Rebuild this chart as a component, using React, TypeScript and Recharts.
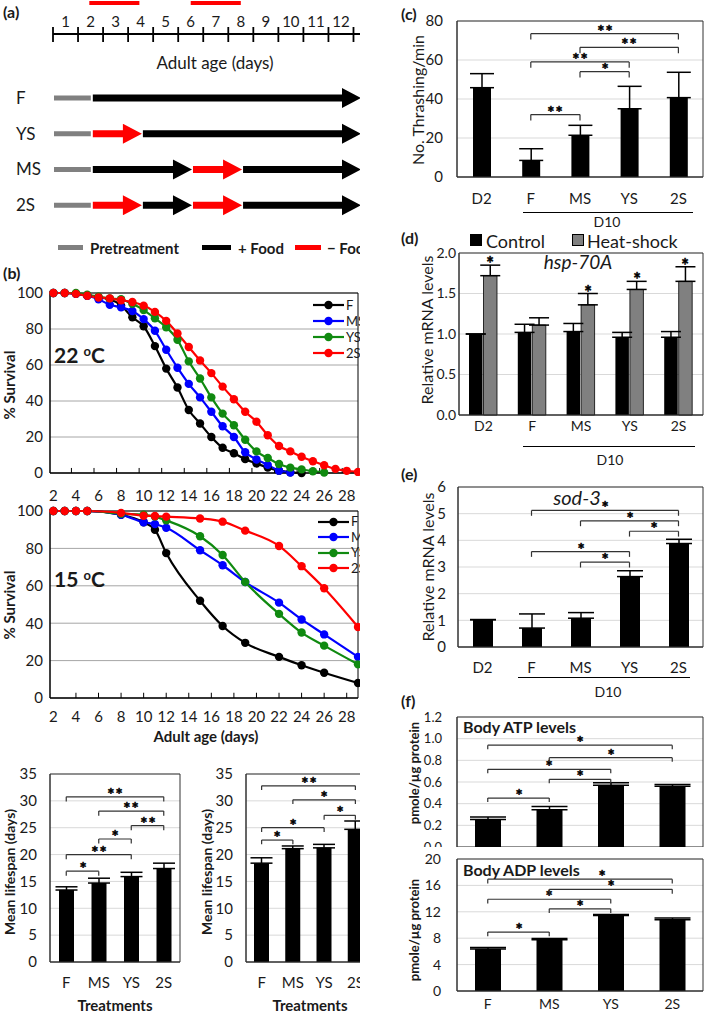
import React from "react";
import {
  BarChart,
  Bar,
  XAxis,
  YAxis,
  CartesianGrid,
  ErrorBar,
  ReferenceLine,
  ReferenceArea,
  LineChart,
  Line,
  Legend,
  LabelList,
} from "recharts";

const FONT = "Lato, 'Open Sans', sans-serif";
const INK = "#1a1a1a";
const BOX = "#333";
const LIGHT_GRID = "#d9d9d9";

// ---------- (a) feeding schedule ----------
const SCHEDULE_ROWS = ["F", "YS", "MS", "2S"];
const SCHEDULE_SEGMENTS = [
  [1.55, 10.75],
  [1.55, 2, 8.75],
  [1.55, 4, 2, 4.75],
  [1.55, 2, 2, 2, 4.75],
];
const SCHEDULE_KINDS = [
  ["pre", "fed"],
  ["pre", "starved", "fed"],
  ["pre", "fed", "starved", "fed"],
  ["pre", "starved", "fed", "starved", "fed"],
];
const STARVE_WINDOWS = [
  [1.45, 3.45],
  [5.5, 7.5],
];
const DAY_TICKS = [0, 1, 2, 3, 4, 5, 6, 7, 8, 9, 10, 11, 12];
const TIMELINE_END = 12.3;
const KIND_COLOR: Record<string, string> = { pre: "#808080", fed: "#000", starved: "#ff0000" };

// ---------- (b) survival ----------
const SURV_TICKS = [2, 4, 6, 8, 10, 12, 14, 16, 18, 20, 22, 24, 26, 28];
const SURV_Y = [0, 20, 40, 60, 80, 100];
const MARKS_22 = [3.6, 5.6, 7.6, 9.6, 11.6, 13.6, 15.6, 17.6, 19.6, 21.6, 23.6, 25.6, 27.6];
const MARKS_15 = [4, 6, 8, 10, 12, 14, 16, 18, 20, 22, 24, 26, 28];

const DAYS_22 = [2, 3, 4, 5, 6, 7, 8, 9, 10, 11, 12, 13, 14, 15, 16, 17, 18, 19, 20, 21, 22, 23, 24, 25, 26, 27, 28, 29];
const F_22 = [100, 100, 99.5, 98.5, 97.5, 96.5, 93, 86.5, 81.5, 70.5, 58, 47.5, 35, 27.5, 20, 14, 11, 7.7, 5.3, 3, 1.3, 0.4, 0, null, null, null, null, null];
const MS_22 = [100, 100, 99.5, 98.5, 96.5, 93.5, 92, 90, 85.5, 79, 68.5, 58.5, 49.5, 42, 34, 26, 20, 11.5, 7.5, 4.5, 1.3, 0.2, null, null, null, null, null, null];
const YS_22 = [100, 100, 100, 99, 98, 97, 96.5, 94, 90.5, 86, 81, 74, 62, 52.5, 42, 33, 26.5, 18.5, 12, 8.3, 5, 3, 2, 1, 0.3, null, null, null];
const S2_22 = [100, 100, 99.5, 98.5, 97.5, 97, 96, 95, 93, 89.5, 84.5, 77.5, 70, 62.5, 55.5, 48, 41, 34, 28.5, 21, 15, 12, 9, 6.5, 4.3, 2.3, 1.2, 0.6];

const DAYS_15 = [2, 3, 4, 5, 8, 10, 11, 12, 15, 17, 19, 22, 24, 26, 29];
const F_15 = [100, 100, 100, 100, 98, 94, 90, 77.5, 52, 38.5, 29.5, 22, 17.5, 13.5, 8];
const MS_15 = [100, 100, 100, 100, 98, 94, 93, 91, 79, 71, 62, 51, 42, 34, 22];
const YS_15 = [100, 100, 100, 100, 98.5, 98, 97, 95, 86.5, 76.5, 62, 45, 35, 28, 18];
const S2_15 = [100, 100, 100, 100, 99, 97.5, 97.3, 97, 96, 94.3, 89.5, 81.3, 70.5, 58.7, 38];

const SERIES_COLORS = { F: "#000000", MS: "#0000ff", YS: "#108a10", "2S": "#ff0000" };

// ---------- mean lifespan ----------
const TREATMENTS = ["F", "MS", "YS", "2S"];
const LIFE_Y = [0, 5, 10, 15, 20, 25, 30, 35];
const LIFE_A = [13.4, 14.7, 15.9, 17.4];
const LIFE_A_ERR = [0.6, 0.9, 0.8, 1.0];
const LIFE_B = [18.4, 21.1, 21.25, 24.7];
const LIFE_B_ERR = [1.0, 0.5, 0.65, 1.55];

type Bracket = [string, string, number, string];
const LIFE_A_SIG: Bracket[] = [
  ["F", "MS", 16.9, "*"],
  ["F", "YS", 20, "**"],
  ["MS", "YS", 22.9, "*"],
  ["YS", "2S", 25.4, "**"],
  ["MS", "2S", 28.1, "**"],
  ["F", "2S", 30.75, "**"],
];
const LIFE_B_SIG: Bracket[] = [
  ["F", "MS", 22.7, "*"],
  ["F", "YS", 25, "*"],
  ["YS", "2S", 27.3, "*"],
  ["MS", "2S", 30.2, "*"],
  ["F", "2S", 32.8, "**"],
];

// ---------- (c) thrashing ----------
const GROUPS = ["D2", "F", "MS", "YS", "2S"];
const THRASH = [45.8, 8.5, 21.4, 35, 40.7];
const THRASH_ERR = [7.2, 6, 5.1, 11.5, 13];
const THRASH_Y = [0, 20, 40, 60, 80];
const THRASH_SIG: Bracket[] = [
  ["F", "MS", 32, "**"],
  ["MS", "YS", 54, "*"],
  ["F", "YS", 59, "**"],
  ["MS", "2S", 66.5, "**"],
  ["F", "2S", 73.5, "**"],
];

// ---------- (d) hsp-70A ----------
const HSP_SERIES = ["Control", "Heat-shock"];
const HSP_CONTROL = [1.0, 1.02, 1.03, 0.96, 0.96];
const HSP_CONTROL_ERR = [0, 0.1, 0.1, 0.06, 0.07];
const HSP_HEAT = [1.72, 1.11, 1.36, 1.55, 1.65];
const HSP_HEAT_ERR = [0.13, 0.09, 0.14, 0.1, 0.18];
const HSP_STARS = ["*", "", "*", "*", "*"];
const HSP_Y = [0, 0.5, 1, 1.5, 2];

// ---------- (e) sod-3 ----------
const SOD = [1.02, 0.71, 1.08, 2.64, 3.88];
const SOD_ERR = [0.01, 0.53, 0.21, 0.22, 0.16];
const SOD_Y = [0, 1, 2, 3, 4, 5, 6];
const SOD_SIG: Bracket[] = [
  ["MS", "YS", 3.18, "*"],
  ["F", "YS", 3.58, "*"],
  ["YS", "2S", 4.34, "*"],
  ["MS", "2S", 4.73, "*"],
  ["F", "2S", 5.12, "*"],
];

// ---------- (f) ATP / ADP ----------
const ATP = [0.255, 0.345, 0.57, 0.56];
const ATP_ERR = [0.022, 0.03, 0.024, 0.018];
const ATP_Y = [0, 0.2, 0.4, 0.6, 0.8, 1.0, 1.2];
const ATP_SIG: Bracket[] = [
  ["F", "MS", 0.452, "*"],
  ["MS", "YS", 0.625, "*"],
  ["F", "YS", 0.717, "*"],
  ["MS", "2S", 0.825, "*"],
  ["F", "2S", 0.94, "*"],
];
const ADP = [6.38, 7.76, 11.43, 10.8];
const ADP_ERR = [0.2, 0.2, 0.15, 0.25];
const ADP_Y = [0, 4, 8, 12, 16, 20];
const ADP_SIG: Bracket[] = [
  ["F", "MS", 8.93, "*"],
  ["MS", "YS", 12.45, "*"],
  ["F", "YS", 13.9, "*"],
  ["MS", "2S", 15.4, "*"],
  ["F", "2S", 16.94, "*"],
];
// the top ADP star sits to the right of the panel title
const ADP_STAR_SHIFT: Record<string, number> = { "F-2S": 22 };

// ---------- helpers ----------
function Txt({ x, y, children, size = 15, bold = false, italic = false, anchor = "middle", rotate = 0 }: any) {
  const tx = anchor === "start" ? "0" : anchor === "end" ? "-100%" : "-50%";
  return (
    <div
      style={{
        position: "absolute",
        left: x,
        top: y,
        transform: `translate(${tx}, -50%)${rotate ? ` rotate(${rotate}deg)` : ""}`,
        fontSize: size,
        fontWeight: bold ? 700 : 400,
        fontStyle: italic ? "italic" : "normal",
        whiteSpace: "nowrap",
        lineHeight: 1,
      }}
    >
      {children}
    </div>
  );
}

// asterisk text; a thin stroke keeps it solid black at this small size
function StarText({ x, y, children, size }: any) {
  return (
    <text
      x={Math.round(x)}
      y={Math.round(y)}
      textAnchor="middle"
      fontSize={size}
      fontWeight={700}
      fill="#000"
      stroke="#000"
      strokeWidth={0.5}
    >
      {children}
    </text>
  );
}

function Star(props: any) {
  const vb = props.viewBox || {};
  const x = (vb.x ?? 0) + (vb.width ?? 0) / 2 + (props.shift ?? 0);
  const y = vb.y ?? 0;
  const mark = String(props.mark).split("").join("\u200A");
  return (
    <StarText x={x} y={y + 4} size={props.fs ?? 17}>
      {mark}
    </StarText>
  );
}

function bracketLines(brackets: Bracket[], drop: number, shifts: Record<string, number> = {}, fs = 17) {
  return brackets.flatMap(([a, b, y, mark], i) => [
    <ReferenceLine
      key={`h${i}`}
      segment={[{ x: a, y }, { x: b, y }]}
      stroke={BOX}
      strokeWidth={1.2}
      label={<Star mark={mark} fs={fs} shift={shifts[`${a}-${b}`] ?? 0} />}
    />,
    <ReferenceLine key={`l${i}`} segment={[{ x: a, y }, { x: a, y: y - drop }]} stroke={BOX} strokeWidth={1.2} />,
    <ReferenceLine key={`r${i}`} segment={[{ x: b, y }, { x: b, y: y - drop }]} stroke={BOX} strokeWidth={1.2} />,
  ]);
}

function SigBars(p: {
  left: number;
  top: number;
  width: number;
  height: number;
  ml: number;
  cats: string[];
  vals: number[];
  errs: number[];
  yTicks: number[];
  brackets: Bracket[];
  drop: number;
  barSize: number;
  cap: number;
  fs?: number;
  xTickMargin?: number;
  yTickMargin: number;
  fmt?: (v: number) => string;
  hideX?: boolean;
  starShift?: Record<string, number>;
}) {
  const data = p.cats.map((c, i) => ({ c, v: p.vals[i], e: [0, p.errs[i]] }));
  const dom: [number, number] = [p.yTicks[0], p.yTicks[p.yTicks.length - 1]];
  const fs = p.fs ?? 15;
  return (
    <div style={{ position: "absolute", left: p.left, top: p.top }}>
      <BarChart width={p.width} height={p.height} data={data} margin={{ top: 10, right: 4, left: p.ml, bottom: 0 }}>
        <CartesianGrid vertical={false} stroke={LIGHT_GRID} />
        <XAxis
          dataKey="c"
          hide={p.hideX}
          interval={0}
          tickLine={false}
          tickSize={0}
          tickMargin={p.xTickMargin ?? 10}
          axisLine={{ stroke: BOX }}
          tick={{ fill: INK, fontSize: fs }}
          height={30}
        />
        <YAxis
          domain={dom}
          ticks={p.yTicks}
          interval={0}
          width={42}
          tickLine={false}
          tickSize={0}
          tickMargin={p.yTickMargin}
          axisLine={{ stroke: BOX }}
          tick={{ fill: INK, fontSize: fs }}
          tickFormatter={p.fmt}
        />
        <ReferenceArea y1={dom[0]} y2={dom[1]} fill="none" stroke={BOX} strokeWidth={1} />
        <Bar dataKey="v" fill="#000" barSize={p.barSize} isAnimationActive={false}>
          <ErrorBar dataKey="e" width={p.cap} stroke="#000" strokeWidth={1.5} direction="y" />
        </Bar>
        {bracketLines(p.brackets, p.drop, p.starShift)}
      </BarChart>
    </div>
  );
}

function SurvLegend({ rowH }: { rowH: number }) {
  return (
    <div style={{ fontSize: 13, lineHeight: `${rowH}px` }}>
      {Object.entries(SERIES_COLORS).map(([name, color]) => (
        <div key={name} style={{ display: "flex", alignItems: "center", height: rowH }}>
          <svg width={31} height={10} style={{ marginRight: 2 }}>
            <line x1={0} x2={31} y1={5} y2={5} stroke={color} strokeWidth={2.2} />
            <circle cx={15.5} cy={5} r={4.2} fill={color} />
          </svg>
          <span>{name}</span>
        </div>
      ))}
    </div>
  );
}

function SurvivalChart(p: {
  top: number;
  height: number;
  days: number[];
  values: (number | null)[][];
  marks: number[];
  xTickMargin: number;
  legendLeft: number;
  legendTop: number;
  rowH: number;
}) {
  const names = Object.keys(SERIES_COLORS);
  const data = p.days.map((d, i) => {
    const row: Record<string, number | null> = { d };
    names.forEach((n, k) => (row[n] = p.values[k][i] ?? null));
    return row;
  });
  return (
    <div style={{ position: "absolute", left: 0, top: p.top }}>
      <LineChart width={362} height={p.height} data={data} margin={{ top: 10, right: 4, left: 8, bottom: 0 }}>
        <CartesianGrid vertical={false} stroke="#a6a6a6" />
        <XAxis
          dataKey="d"
          type="number"
          domain={[1.7, 29]}
          ticks={SURV_TICKS}
          interval={0}
          tickLine={false}
          tickSize={0}
          tickMargin={p.xTickMargin}
          axisLine={{ stroke: "#000" }}
          tick={{ fill: INK, fontSize: 15 }}
          height={30}
        />
        <YAxis
          domain={[0, 100]}
          ticks={SURV_Y}
          interval={0}
          width={42}
          tickLine={false}
          tickSize={0}
          tickMargin={7}
          axisLine={{ stroke: "#000" }}
          tick={{ fill: INK, fontSize: 15 }}
        />
        <ReferenceArea y1={0} y2={100} fill="none" stroke="#000" strokeWidth={1} />
        {p.marks.map((m) => (
          <ReferenceLine key={m} segment={[{ x: m, y: 0 }, { x: m, y: 2.8 }]} stroke="#000" strokeWidth={1} />
        ))}
        {names.map((n) => (
          <Line
            key={n}
            dataKey={n}
            type="monotone"
            stroke={(SERIES_COLORS as any)[n]}
            strokeWidth={2.2}
            dot={{ r: 4.2, fill: (SERIES_COLORS as any)[n], stroke: "none" }}
            isAnimationActive={false}
            connectNulls={false}
          />
        ))}
        <Legend
          layout="vertical"
          align="center"
          verticalAlign="middle"
          content={() => <SurvLegend rowH={p.rowH} />}
          wrapperStyle={{ left: p.legendLeft, top: p.legendTop, width: 60, height: 4 * p.rowH }}
        />
      </LineChart>
    </div>
  );
}

// ---------- (a) schedule chart ----------
const A_WIDTH = 361;
const A_LEFT = 53;
const DAY_PX = (A_WIDTH - A_LEFT) / TIMELINE_END;

function Segment(props: any) {
  const { x, y, width, height, idx, index } = props;
  const kind = SCHEDULE_KINDS[index]?.[idx];
  if (!kind || !(width > 0)) return null;
  const cy = y + height / 2;
  const x0 = x + 1;
  const tip = x + width;
  if (kind === "pre") return <rect x={x0} y={cy - 2.5} width={width - 2} height={5} fill={KIND_COLOR.pre} />;
  const hl = 19;
  const d = `M${x0},${cy - 3.5}H${tip - hl}V${cy - 10}L${tip},${cy}L${tip - hl},${cy + 10}V${cy + 3.5}H${x0}Z`;
  return <path d={d} fill={KIND_COLOR[kind]} />;
}

function TimeTick(props: any) {
  const { x, y, payload } = props;
  return (
    <g>
      <line x1={x} x2={x} y1={y - 7} y2={y + 8} stroke="#000" strokeWidth={1.8} />
      {payload.value < 12 && (
        <text x={x + DAY_PX / 2} y={y - 7} textAnchor="middle" fontSize={15} fill={INK}>
          {payload.value + 1}
        </text>
      )}
    </g>
  );
}

function RowLabel(props: any) {
  const { y, payload } = props;
  return (
    <text x={16} y={y} dy="0.36em" fontSize={17} fill={INK}>
      {payload.value}
    </text>
  );
}

function ScheduleChart() {
  const rows = SCHEDULE_ROWS.map((name, r) => {
    const row: Record<string, any> = { name };
    for (let i = 0; i < 5; i++) row[`s${i}`] = SCHEDULE_SEGMENTS[r][i] ?? 0;
    return row;
  });
  const starve = [
    {
      name: "s",
      g0: STARVE_WINDOWS[0][0],
      r0: STARVE_WINDOWS[0][1] - STARVE_WINDOWS[0][0],
      g1: STARVE_WINDOWS[1][0] - STARVE_WINDOWS[0][1],
      r1: STARVE_WINDOWS[1][1] - STARVE_WINDOWS[1][0],
    },
  ];
  return (
    <>
      <div style={{ position: "absolute", left: 0, top: 0 }}>
        <BarChart layout="vertical" width={A_WIDTH} height={5} data={starve} margin={{ top: 0, right: 0, bottom: 0, left: A_LEFT }}>
          <XAxis type="number" hide domain={[0, TIMELINE_END]} />
          <YAxis type="category" dataKey="name" hide />
          {["g0", "r0", "g1", "r1"].map((k) => (
            <Bar key={k} dataKey={k} stackId="s" barSize={4} fill={k[0] === "r" ? "#ff0000" : "none"} isAnimationActive={false} />
          ))}
        </BarChart>
      </div>
      <div style={{ position: "absolute", left: 0, top: 0 }}>
        <BarChart layout="vertical" width={A_WIDTH} height={226} data={rows} margin={{ top: 0, right: 0, bottom: 3, left: 0 }}>
          <XAxis
            type="number"
            orientation="top"
            domain={[0, TIMELINE_END]}
            ticks={DAY_TICKS}
            interval={0}
            height={34}
            tickLine={false}
            tickSize={0}
            tickMargin={0}
            axisLine={{ stroke: "#000", strokeWidth: 1.8 }}
            tick={(t: any) => <TimeTick {...t} />}
            allowDataOverflow
          />
          <YAxis
            type="category"
            dataKey="name"
            width={A_LEFT}
            axisLine={false}
            tickLine={false}
            tick={(t: any) => <RowLabel {...t} />}
            padding={{ top: 46, bottom: 0 }}
          />
          {[0, 1, 2, 3, 4].map((i) => (
            <Bar
              key={i}
              dataKey={`s${i}`}
              stackId="a"
              barSize={22}
              isAnimationActive={false}
              shape={(sp: any) => <Segment {...sp} idx={i} />}
            />
          ))}
        </BarChart>
      </div>
    </>
  );
}

function HspChart() {
  const data = GROUPS.map((g, i) => ({
    c: g,
    cv: HSP_CONTROL[i],
    ce: [0, HSP_CONTROL_ERR[i]],
    hv: HSP_HEAT[i],
    he: [0, HSP_HEAT_ERR[i]],
    pad: HSP_HEAT_ERR[i],
    star: HSP_STARS[i],
  }));
  return (
    <div style={{ position: "absolute", left: 409, top: 243 }}>
      <BarChart width={298} height={202} data={data} margin={{ top: 10, right: 4, left: 8, bottom: 0 }} barGap={1}>
        <CartesianGrid vertical={false} stroke={LIGHT_GRID} />
        <XAxis
          dataKey="c"
          interval={0}
          tickLine={false}
          tickSize={0}
          tickMargin={6}
          axisLine={{ stroke: BOX }}
          tick={{ fill: INK, fontSize: 14 }}
          height={30}
        />
        <YAxis
          domain={[0, 2]}
          ticks={HSP_Y}
          interval={0}
          width={42}
          tickLine={false}
          tickSize={0}
          tickMargin={3}
          axisLine={{ stroke: BOX }}
          tick={{ fill: INK, fontSize: 14 }}
          tickFormatter={(v: number) => v.toFixed(1)}
        />
        <ReferenceArea y1={0} y2={2} fill="none" stroke={BOX} />
        <Bar dataKey="cv" name={HSP_SERIES[0]} stackId="c" fill="#000" barSize={13.5} isAnimationActive={false}>
          <ErrorBar dataKey="ce" width={10} stroke="#000" strokeWidth={1.5} direction="y" />
        </Bar>
        <Bar
          dataKey="hv"
          name={HSP_SERIES[1]}
          stackId="h"
          fill="#808080"
          stroke="#000"
          strokeWidth={0.8}
          barSize={13.5}
          isAnimationActive={false}
        >
          <ErrorBar dataKey="he" width={10} stroke="#000" strokeWidth={1.5} direction="y" />
        </Bar>
        <Bar dataKey="pad" stackId="h" fill="none" barSize={13.5} isAnimationActive={false}>
          <LabelList
            dataKey="star"
            content={(lp: any) =>
              lp.value ? (
                <StarText x={Number(lp.x) + Number(lp.width) / 2} y={Number(lp.y) + 5} size={18}>
                  {lp.value}
                </StarText>
              ) : null
            }
          />
        </Bar>
      </BarChart>
    </div>
  );
}

function Underline({ x1, x2, y }: { x1: number; x2: number; y: number }) {
  return <div style={{ position: "absolute", left: x1, top: y, width: x2 - x1, height: 0, borderTop: "1.3px solid #000" }} />;
}

export default function App() {
  return (
    <div
      style={{
        position: "absolute",
        left: 0,
        top: 0,
        width: 709,
        height: 1016,
        background: "#fff",
        fontFamily: FONT,
        color: INK,
        overflow: "hidden",
      }}
    >
      <div style={{ position: "absolute", left: 0, top: 0, width: 360, height: 1016, overflow: "hidden" }}>
        <Txt x={3} y={12} anchor="start" size={16} bold>
          (a)
        </Txt>
        <ScheduleChart />
        <Txt x={215} y={62} size={17}>
          Adult age (days)
        </Txt>
        {/* schedule legend */}
        <div style={{ position: "absolute", left: 58, top: 245, width: 25, height: 5, background: KIND_COLOR.pre }} />
        <Txt x={90} y={248} anchor="start" size={15} bold>
          Pretreatment
        </Txt>
        <div style={{ position: "absolute", left: 202, top: 245, width: 29, height: 5, background: KIND_COLOR.fed }} />
        <Txt x={238} y={248} anchor="start" size={15} bold>
          + Food
        </Txt>
        <div style={{ position: "absolute", left: 295, top: 245, width: 26, height: 5, background: KIND_COLOR.starved }} />
        <Txt x={327} y={248} anchor="start" size={15} bold>
          − Food
        </Txt>

        <Txt x={3} y={273} anchor="start" size={16} bold>
          (b)
        </Txt>
        <SurvivalChart
          top={283}
          height={220}
          days={DAYS_22}
          values={[F_22, MS_22, YS_22, S2_22]}
          marks={MARKS_22}
          xTickMargin={17}
          legendLeft={313}
          legendTop={14}
          rowH={16}
        />
        <Txt x={54} y={354} anchor="start" size={21} bold>
          22 <span style={{ fontSize: "0.62em", verticalAlign: "0.5em" }}>o</span>C
        </Txt>
        <Txt x={9} y={385} size={15} bold rotate={-90}>
          % Survival
        </Txt>

        <SurvivalChart
          top={501}
          height={227}
          days={DAYS_15}
          values={[F_15, MS_15, YS_15, S2_15]}
          marks={MARKS_15}
          xTickMargin={13}
          legendLeft={318}
          legendTop={13}
          rowH={15.5}
        />
        <Txt x={54} y={578} anchor="start" size={21} bold>
          15 <span style={{ fontSize: "0.62em", verticalAlign: "0.5em" }}>o</span>C
        </Txt>
        <Txt x={9} y={605} size={15} bold rotate={-90}>
          % Survival
        </Txt>
        <Txt x={206} y={736} size={15} bold>
          Adult age (days)
        </Txt>

        <SigBars
          left={0}
          top={764}
          width={184}
          height={228}
          ml={8}
          cats={TREATMENTS}
          vals={LIFE_A}
          errs={LIFE_A_ERR}
          yTicks={LIFE_Y}
          brackets={LIFE_A_SIG}
          drop={0.85}
          barSize={15}
          cap={11}
          xTickMargin={15}
          yTickMargin={13}
        />
        <SigBars
          left={196}
          top={764}
          width={179}
          height={228}
          ml={8}
          cats={TREATMENTS}
          vals={LIFE_B}
          errs={LIFE_B_ERR}
          yTicks={LIFE_Y}
          brackets={LIFE_B_SIG}
          drop={0.8}
          barSize={15}
          cap={11}
          xTickMargin={15}
          yTickMargin={13}
        />
        <Txt x={10} y={872} size={14} bold rotate={-90}>
          Mean lifespan (days)
        </Txt>
        <Txt x={207} y={872} size={14} bold rotate={-90}>
          Mean lifespan (days)
        </Txt>
        <Txt x={115} y={1005} size={15} bold>
          Treatments
        </Txt>
        <Txt x={310} y={1005} size={15} bold>
          Treatments
        </Txt>
      </div>

      {/* (c) */}
      <Txt x={401} y={14} anchor="start" size={16} bold>
        (c)
      </Txt>
      <SigBars
        left={405}
        top={11}
        width={302}
        height={196}
        ml={10}
        cats={GROUPS}
        vals={THRASH}
        errs={THRASH_ERR}
        yTicks={THRASH_Y}
        brackets={THRASH_SIG}
        drop={3}
        barSize={18}
        cap={12}
        xTickMargin={16}
        yTickMargin={14}
      />
      <Txt x={418} y={100} size={16} rotate={-90}>
        No. Thrashing/min
      </Txt>
      <Underline x1={523} x2={693} y={212} />
      <Txt x={607} y={222} size={14}>
        D10
      </Txt>

      {/* (d) */}
      <Txt x={401} y={238} anchor="start" size={16} bold>
        (d)
      </Txt>
      <div style={{ position: "absolute", left: 470, top: 234, width: 12, height: 12, background: "#000" }} />
      <Txt x={486} y={241} anchor="start" size={18}>
        {HSP_SERIES[0]}
      </Txt>
      <div style={{ position: "absolute", left: 572, top: 234, width: 10, height: 10, background: "#808080", border: "1px solid #000" }} />
      <Txt x={587} y={241} anchor="start" size={18}>
        {HSP_SERIES[1]}
      </Txt>
      <HspChart />
      <Txt x={578} y={261} size={19} italic>
        hsp-70A
      </Txt>
      <Txt x={427} y={330} size={16} rotate={-90}>
        Relative mRNA levels
      </Txt>
      <Underline x1={523} x2={695} y={446} />
      <Txt x={610} y={460} size={14}>
        D10
      </Txt>

      {/* (e) */}
      <Txt x={401} y={474} anchor="start" size={16} bold>
        (e)
      </Txt>
      <SigBars
        left={408}
        top={477}
        width={299}
        height={200}
        ml={8}
        cats={GROUPS}
        vals={SOD}
        errs={SOD_ERR}
        yTicks={SOD_Y}
        brackets={SOD_SIG}
        drop={0.2}
        barSize={20}
        cap={13}
        xTickMargin={15}
        yTickMargin={12}
      />
      <Txt x={577} y={497} size={20} italic>
        sod-3
      </Txt>
      <Txt x={428} y={567} size={16} rotate={-90}>
        Relative mRNA levels
      </Txt>
      <Underline x1={518} x2={690} y={677} />
      <Txt x={608} y={692} size={14}>
        D10
      </Txt>

      {/* (f) */}
      <Txt x={401} y={701} anchor="start" size={16} bold>
        (f)
      </Txt>
      <SigBars
        left={405}
        top={707}
        width={302}
        height={140}
        ml={10}
        cats={TREATMENTS}
        vals={ATP}
        errs={ATP_ERR}
        yTicks={ATP_Y}
        brackets={ATP_SIG}
        drop={0.037}
        barSize={26}
        cap={18}
        fs={13}
        yTickMargin={15}
        fmt={(v: number) => v.toFixed(1)}
        hideX
      />
      <Txt x={463} y={727} anchor="start" size={16} bold>
        Body ATP levels
      </Txt>
      <SigBars
        left={405}
        top={849}
        width={302}
        height={172}
        ml={10}
        cats={TREATMENTS}
        vals={ADP}
        errs={ADP_ERR}
        yTicks={ADP_Y}
        brackets={ADP_SIG}
        drop={0.65}
        barSize={26}
        cap={18}
        fs={14}
        xTickMargin={8}
        yTickMargin={16}
        starShift={ADP_STAR_SHIFT}
      />
      <Txt x={463} y={870} anchor="start" size={16} bold>
        Body ADP levels
      </Txt>
      <Txt x={414} y={773} size={13} bold rotate={-90}>
        pmole/µg protein
      </Txt>
      <Txt x={414} y={930} size={13} bold rotate={-90}>
        pmole/µg protein
      </Txt>
    </div>
  );
}
